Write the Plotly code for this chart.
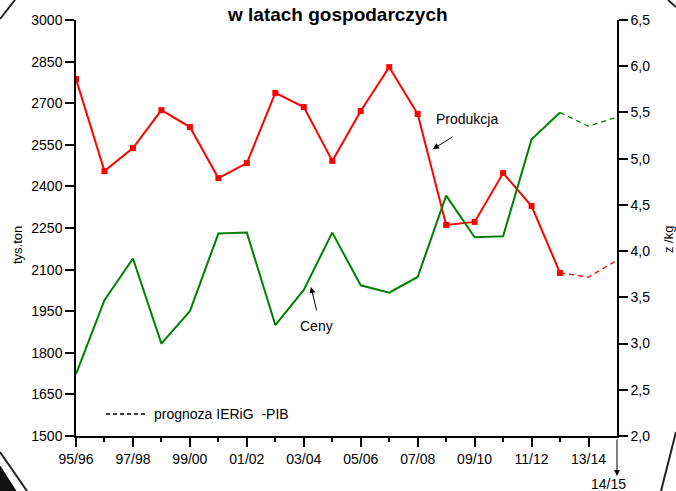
import plotly.graph_objects as go

# ---- data ----
seasons = ["95/96", "96/97", "97/98", "98/99", "99/00", "00/01", "01/02", "02/03",
           "03/04", "04/05", "05/06", "06/07", "07/08", "08/09", "09/10", "10/11",
           "11/12", "12/13", "13/14", "14/15"]
production = [2787, 2455, 2538, 2675, 2614, 2430, 2484, 2737, 2686, 2492,
              2672, 2830, 2661, 2261, 2272, 2448, 2329, 2088, 2073, 2134]
prices = [2.67, 3.47, 3.92, 3.00, 3.35, 4.19, 4.20, 3.20, 3.58, 4.20,
          3.63, 3.55, 3.72, 4.60, 4.15, 4.16, 5.21, 5.50, 5.35, 5.45]
n_actual = 18  # last actual season 12/13, then forecast

left_ticks = [1500, 1650, 1800, 1950, 2100, 2250, 2400, 2550, 2700, 2850, 3000]
right_ticks = [2.0, 2.5, 3.0, 3.5, 4.0, 4.5, 5.0, 5.5, 6.0, 6.5]
right_ticklabels = ["2,0", "2,5", "3,0", "3,5", "4,0", "4,5", "5,0", "5,5", "6,0", "6,5"]
x_labeled = list(range(0, 19, 2))

RED = "#ff0000"
GREEN = "#008000"
FONT = "Liberation Sans, Arial, sans-serif"

W, H = 676, 491
L, R, T, B = 76, 617, 20, 436


def px(xp):
    return (xp - L) / (R - L)


def py(yp):
    return (B - yp) / (B - T)


idx = list(range(len(seasons)))
fig = go.Figure()

fig.add_trace(go.Scatter(x=idx[:n_actual], y=production[:n_actual], mode="lines+markers",
                         line=dict(color=RED, width=2),
                         marker=dict(symbol="square", size=6, color=RED),
                         yaxis="y", showlegend=False))
fig.add_trace(go.Scatter(x=idx[n_actual - 1:], y=production[n_actual - 1:], mode="lines",
                         line=dict(color=RED, width=1.3, dash="5px,4px"),
                         yaxis="y", showlegend=False))
fig.add_trace(go.Scatter(x=idx[:n_actual], y=prices[:n_actual], mode="lines",
                         line=dict(color=GREEN, width=2),
                         yaxis="y2", showlegend=False))
fig.add_trace(go.Scatter(x=idx[n_actual - 1:], y=prices[n_actual - 1:], mode="lines",
                         line=dict(color=GREEN, width=1.3, dash="5px,4px"),
                         yaxis="y2", showlegend=False))

tickfont = dict(family=FONT, size=14, color="black")

fig.update_layout(
    width=W, height=H,
    margin=dict(l=L, r=W - R, t=T, b=H - B, pad=0),
    paper_bgcolor="white", plot_bgcolor="white",
    font=dict(family=FONT, size=14, color="black"),
    xaxis=dict(range=[0, 19], tickmode="array", tickvals=x_labeled,
               ticktext=[seasons[i] for i in x_labeled],
               ticks="outside", ticklen=9, tickwidth=1.5, tickcolor="black",
               showline=True, linecolor="black", linewidth=1.5,
               showgrid=False, zeroline=False, tickfont=tickfont, automargin=False,
               minor=dict(tickvals=list(range(1, 19, 2)), ticks="outside",
                          ticklen=4, tickwidth=1.5, tickcolor="black")),
    yaxis=dict(range=[1500, 3000], tickmode="array", tickvals=left_ticks,
               ticks="outside", ticklen=9, tickwidth=1.5, tickcolor="black",
               showline=True, linecolor="black", linewidth=1.5, automargin=False,
               showgrid=False, zeroline=False, tickfont=tickfont),
    yaxis2=dict(range=[2, 6.5], overlaying="y", side="right", tickmode="array",
                tickvals=right_ticks, ticktext=right_ticklabels,
                ticks="outside", ticklen=9, tickwidth=1.5, tickcolor="black",
                showline=True, linecolor="black", linewidth=1.5, automargin=False,
                showgrid=False, zeroline=False, tickfont=tickfont),
)

annotations = [
    dict(text="<b>w latach gospodarczych</b>", xref="paper", yref="paper",
         x=px(337), y=py(14), xanchor="center", yanchor="middle", showarrow=False,
         font=dict(family=FONT, size=19, color="black")),
    dict(text="tys.ton", xref="paper", yref="paper", x=px(17), y=py(245),
         xanchor="center", yanchor="middle", textangle=-90, showarrow=False,
         font=dict(family=FONT, size=13)),
    dict(text="z /kg", xref="paper", yref="paper", x=px(668), y=py(240),
         xanchor="center", yanchor="middle", textangle=-90, showarrow=False,
         font=dict(family=FONT, size=13)),
    # arrow to 14/15
    dict(text="", xref="x", yref="paper", x=19, y=py(476), ax=0, ay=-38,
         showarrow=True, arrowhead=2, arrowsize=1.2, arrowwidth=1, arrowcolor="black"),
    dict(text="14/15", xref="paper", yref="paper", x=px(608), y=py(484),
         xanchor="center", yanchor="middle", showarrow=False, font=dict(family=FONT, size=14)),
    # Produkcja
    dict(text="Produkcja", xref="paper", yref="paper", x=px(434), y=py(119),
         xanchor="left", yanchor="middle", showarrow=False, font=dict(family=FONT, size=14)),
    dict(text="", xref="paper", yref="paper", x=px(433), y=py(149), ax=21, ay=-13,
         showarrow=True, arrowhead=2, arrowsize=1.2, arrowwidth=1, arrowcolor="black"),
    # Ceny
    dict(text="Ceny", xref="paper", yref="paper", x=px(316), y=py(326),
         xanchor="center", yanchor="middle", showarrow=False, font=dict(family=FONT, size=14)),
    dict(text="", xref="paper", yref="paper", x=px(311), y=py(287), ax=6, ay=25,
         showarrow=True, arrowhead=2, arrowsize=1.2, arrowwidth=1, arrowcolor="black"),
    # legend text
    dict(text="prognoza IERiG  -PIB", xref="paper", yref="paper", x=px(152), y=py(414),
         xanchor="left", yanchor="middle", showarrow=False, font=dict(family=FONT, size=14)),
]
fig.update_layout(annotations=annotations)

shapes = [
    dict(type="line", xref="paper", yref="paper", x0=px(106), x1=px(145), y0=py(414), y1=py(414),
         line=dict(color="black", width=1.3, dash="4px,3px")),
    # slide frame decorations
    dict(type="line", xref="paper", yref="paper", x0=px(0), y0=py(19), x1=px(15), y1=py(0),
         line=dict(color="#222", width=2)),
    dict(type="line", xref="paper", yref="paper", x0=px(0), y0=py(452), x1=px(27), y1=py(491),
         line=dict(color="#222", width=2)),
    dict(type="path", xref="paper", yref="paper",
         path=f"M {px(0)} {py(466)} L {px(0)} {py(491)} L {px(16)} {py(491)} Z",
         fillcolor="#111", line=dict(color="#111", width=1)),
    dict(type="line", xref="paper", yref="paper", x0=px(668), y0=py(0), x1=px(676), y1=py(7),
         line=dict(color="#222", width=2)),
    dict(type="line", xref="paper", yref="paper", x0=px(676), y0=py(432), x1=px(661), y1=py(491),
         line=dict(color="#222", width=2)),
]
fig.update_layout(shapes=shapes)

fig.write_html("out.html", config={"displayModeBar": False},
               post_script="document.body.style.margin='0';document.body.style.padding='0';")
